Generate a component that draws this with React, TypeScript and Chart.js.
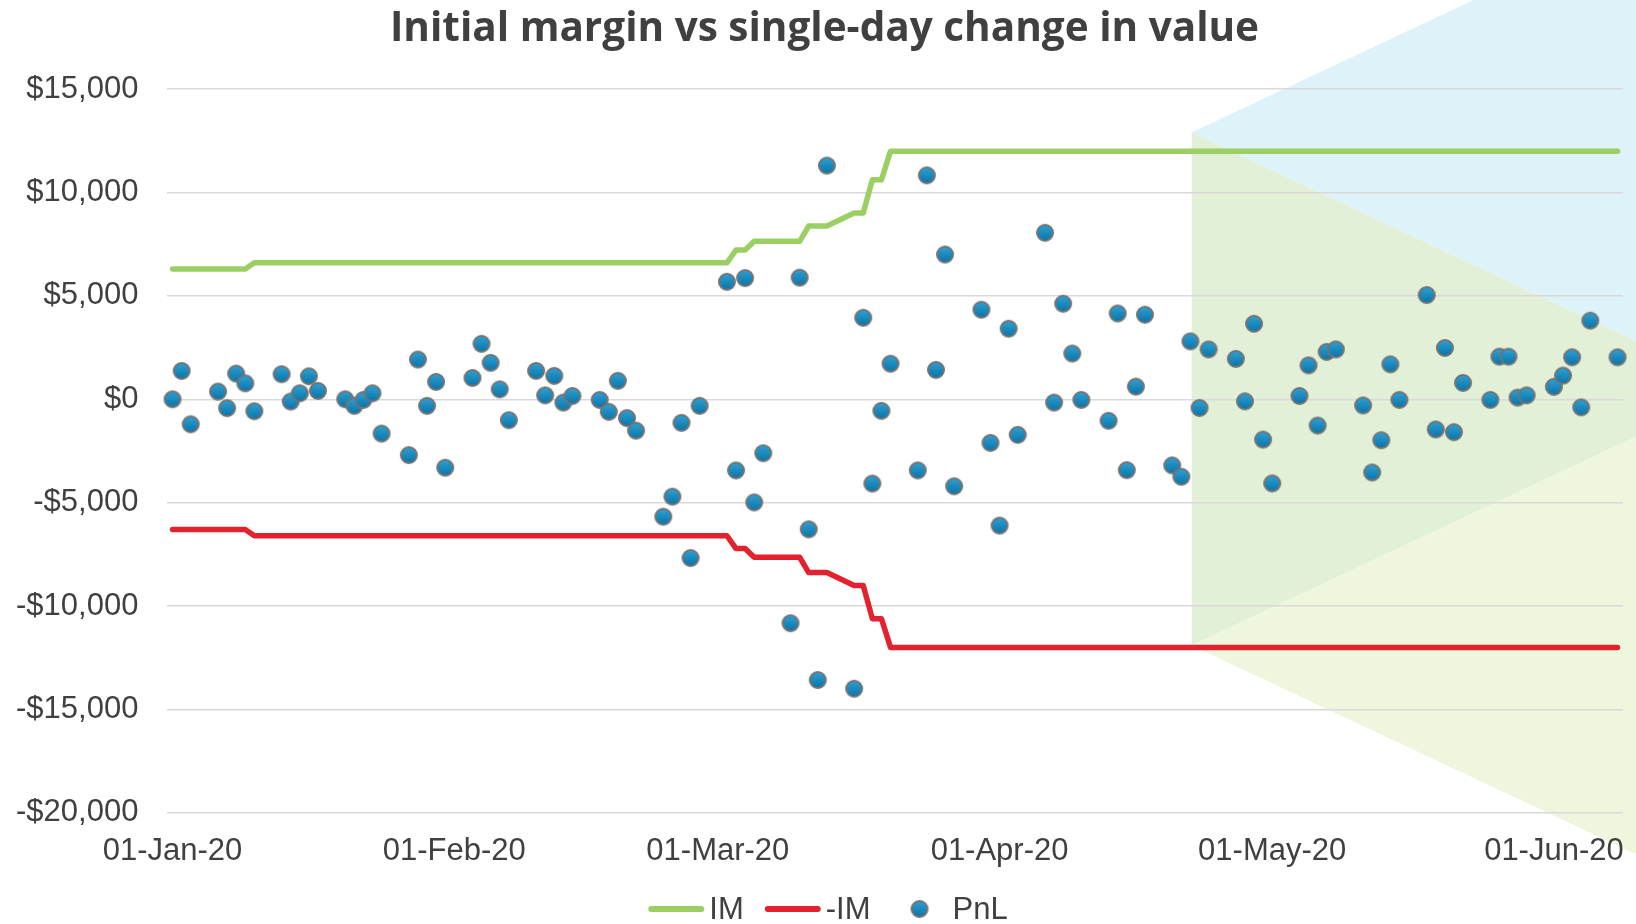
import React, { useEffect, useRef } from 'react';
import { Chart, registerables } from 'chart.js';

Chart.register(...registerables);

const TITLE = 'Initial margin vs single-day change in value';

// Business days shown on the chart
const DATES: string[] = [
  '2020-01-01', '2020-01-02', '2020-01-03', '2020-01-06', '2020-01-07', '2020-01-08', '2020-01-09', '2020-01-10',
  '2020-01-13', '2020-01-14', '2020-01-15', '2020-01-16', '2020-01-17', '2020-01-20', '2020-01-21', '2020-01-22',
  '2020-01-23', '2020-01-24', '2020-01-27', '2020-01-28', '2020-01-29', '2020-01-30', '2020-01-31',
  '2020-02-03', '2020-02-04', '2020-02-05', '2020-02-06', '2020-02-07', '2020-02-10', '2020-02-11', '2020-02-12',
  '2020-02-13', '2020-02-14', '2020-02-17', '2020-02-18', '2020-02-19', '2020-02-20', '2020-02-21', '2020-02-24',
  '2020-02-25', '2020-02-26', '2020-02-27', '2020-02-28',
  '2020-03-02', '2020-03-03', '2020-03-04', '2020-03-05', '2020-03-06', '2020-03-09', '2020-03-10', '2020-03-11',
  '2020-03-12', '2020-03-13', '2020-03-16', '2020-03-17', '2020-03-18', '2020-03-19', '2020-03-20', '2020-03-23',
  '2020-03-24', '2020-03-25', '2020-03-26', '2020-03-27', '2020-03-30', '2020-03-31',
  '2020-04-01', '2020-04-02', '2020-04-03', '2020-04-06', '2020-04-07', '2020-04-08', '2020-04-09', '2020-04-10',
  '2020-04-13', '2020-04-14', '2020-04-15', '2020-04-16', '2020-04-17', '2020-04-20', '2020-04-21', '2020-04-22',
  '2020-04-23', '2020-04-24', '2020-04-27', '2020-04-28', '2020-04-29', '2020-04-30',
  '2020-05-01', '2020-05-04', '2020-05-05', '2020-05-06', '2020-05-07', '2020-05-08', '2020-05-11', '2020-05-12',
  '2020-05-13', '2020-05-14', '2020-05-15', '2020-05-18', '2020-05-19', '2020-05-20', '2020-05-21', '2020-05-22',
  '2020-05-25', '2020-05-26', '2020-05-27', '2020-05-28', '2020-05-29',
  '2020-06-01', '2020-06-02', '2020-06-03', '2020-06-04', '2020-06-05', '2020-06-08',
];

const PNL: number[] = [
  // Jan
  0, 1370, -1210, 370, -430, 1240, 770, -580, 1210, -110, 290, 1110, 405, 0, -320, -30, 290, -1660, -2700, 1920, -320, 840, -3310,
  // Feb
  1030, 2680, 1760, 480, -1010, 1370, 190, 1130, -160, 160, -30, -610, 890, -910, -1520, -5680, -4710, -1140, -7680, -320,
  // Mar
  5680, -3440, 5860, -4990, -2610, -10830, 5880, -6290, -13580, 11300, -14000, 3940, -4080, -560, 1720, -3440, 10830, 1420, 7000, -4210, 4330, -2110,
  // Apr
  -6110, 3410, -1720, 8050, -160, 4620, 2210, -30, -1040, 4150, -3430, 610, 4090, -3200, -3750, 2800, -420, 2410, 1950, -100, 3650, -1950,
  // May
  -4070, 160, 1640, -1270, 2290, 2410, -300, -3540, -1980, 1690, -30, 5040, -1460, 2480, -1590, 790, -30, 2060, 2060, 80, 190,
  // Jun
  600, 1140, 2030, -390, 3800, 2030,
];

const IM: number[] = [
  // Jan
  6300, 6300, 6300, 6300, 6300, 6300, 6300, 6600, 6600, 6600, 6600, 6600, 6600, 6600, 6600, 6600, 6600, 6600, 6600, 6600, 6600, 6600, 6600,
  // Feb
  6600, 6600, 6600, 6600, 6600, 6600, 6600, 6600, 6600, 6600, 6600, 6600, 6600, 6600, 6600, 6600, 6600, 6600, 6600, 6600,
  // Mar
  6600, 7220, 7220, 7640, 7640, 7640, 7640, 8380, 8380, 8380, 9010, 9010, 10610, 10610, 12000, 12000, 12000, 12000, 12000, 12000, 12000, 12000,
  // Apr
  12000, 12000, 12000, 12000, 12000, 12000, 12000, 12000, 12000, 12000, 12000, 12000, 12000, 12000, 12000, 12000, 12000, 12000, 12000, 12000, 12000, 12000,
  // May
  12000, 12000, 12000, 12000, 12000, 12000, 12000, 12000, 12000, 12000, 12000, 12000, 12000, 12000, 12000, 12000, 12000, 12000, 12000, 12000, 12000,
  // Jun
  12000, 12000, 12000, 12000, 12000, 12000,
];

const NEG_IM: number[] = [
  // Jan
  -6300, -6300, -6300, -6300, -6300, -6300, -6300, -6600, -6600, -6600, -6600, -6600, -6600, -6600, -6600, -6600, -6600, -6600, -6600, -6600, -6600, -6600, -6600,
  // Feb
  -6600, -6600, -6600, -6600, -6600, -6600, -6600, -6600, -6600, -6600, -6600, -6600, -6600, -6600, -6600, -6600, -6600, -6600, -6600, -6600,
  // Mar
  -6600, -7220, -7220, -7640, -7640, -7640, -7640, -8380, -8380, -8380, -9010, -9010, -10610, -10610, -12000, -12000, -12000, -12000, -12000, -12000, -12000, -12000,
  // Apr
  -12000, -12000, -12000, -12000, -12000, -12000, -12000, -12000, -12000, -12000, -12000, -12000, -12000, -12000, -12000, -12000, -12000, -12000, -12000, -12000, -12000, -12000,
  // May
  -12000, -12000, -12000, -12000, -12000, -12000, -12000, -12000, -12000, -12000, -12000, -12000, -12000, -12000, -12000, -12000, -12000, -12000, -12000, -12000, -12000,
  // Jun
  -12000, -12000, -12000, -12000, -12000, -12000,
];

const SERIES_LABELS = ['IM', '-IM', 'PnL'];
const SERIES_COLORS = ['#9CCF63', '#E2232F', '#1587BF'];

const X_START = '2020-01-01';
const X_TICK_DATES = ['2020-01-01', '2020-02-01', '2020-03-01', '2020-04-01', '2020-05-01', '2020-06-01'];
const X_TICK_LABELS = ['01-Jan-20', '01-Feb-20', '01-Mar-20', '01-Apr-20', '01-May-20', '01-Jun-20'];
const X_AXIS_MIN_DAY = -0.57;
const X_AXIS_MAX_DAY = 159.6;

const Y_MIN = -20000;
const Y_MAX = 15000;
const Y_STEP = 5000;

// decorative background shapes (fractions of the canvas)
const BG_APEX_X = 0.7284;
const BG_APEX_TOP_Y = 0.1434;
const BG_APEX_BOTTOM_Y = 0.6986;
const BG_SLOPE = 0.47;
const BG_COLORS = ['#DEF2FA', '#E2F0D7', '#EEF7DD'];

const TEXT_COLOR = '#404040';
const AXIS_FONT = { family: "'Liberation Sans', Arial, sans-serif", size: 31 };

function dayIndex(d: string): number {
  return Math.round((Date.parse(d + 'T00:00:00Z') - Date.parse(X_START + 'T00:00:00Z')) / 86400000);
}

function fmtMoney(v: number): string {
  return (v < 0 ? '-$' : '$') + Math.abs(v).toLocaleString('en-US');
}

function makeMarker(): HTMLCanvasElement {
  const c = document.createElement('canvas');
  c.width = 20;
  c.height = 20;
  const g = c.getContext('2d')!;
  const grad = g.createLinearGradient(0, 2, 0, 18);
  grad.addColorStop(0, '#2BA2D6');
  grad.addColorStop(1, '#0C73A6');
  g.beginPath();
  g.arc(10, 10, 8, 0, Math.PI * 2);
  g.fillStyle = grad;
  g.fill();
  g.lineWidth = 2;
  g.strokeStyle = '#747474';
  g.stroke();
  return c;
}

export default function App() {
  const ref = useRef<HTMLCanvasElement>(null);

  useEffect(() => {
    const canvas = ref.current;
    if (!canvas) return;
    const marker = makeMarker();

    const bgPlugin = {
      id: 'bgShapes',
      afterLayout(chart: any) {
        // nudge the title block slightly to the right, as in the reference
        if (chart.titleBlock) {
          chart.titleBlock.left += 5;
          chart.titleBlock.right += 5;
        }
      },
      beforeDraw(chart: any) {
        const ctx = chart.ctx;
        const W = chart.width;
        const H = chart.height;
        const ax = W * BG_APEX_X;
        const ay = H * BG_APEX_TOP_Y;
        const by = H * BG_APEX_BOTTOM_Y;
        const dx = W - ax;
        ctx.save();
        ctx.fillStyle = BG_COLORS[0];
        ctx.beginPath();
        ctx.moveTo(ax, ay);
        ctx.lineTo(ax + ay / BG_SLOPE, 0);
        ctx.lineTo(W, 0);
        ctx.lineTo(W, ay + dx * BG_SLOPE);
        ctx.closePath();
        ctx.fill();
        ctx.fillStyle = BG_COLORS[1];
        ctx.beginPath();
        ctx.moveTo(ax, ay);
        ctx.lineTo(W, ay + dx * BG_SLOPE);
        ctx.lineTo(W, by - dx * BG_SLOPE);
        ctx.lineTo(ax, by);
        ctx.closePath();
        ctx.fill();
        ctx.fillStyle = BG_COLORS[2];
        ctx.beginPath();
        ctx.moveTo(ax, by);
        ctx.lineTo(W, by - dx * BG_SLOPE);
        ctx.lineTo(W, by + dx * BG_SLOPE);
        ctx.closePath();
        ctx.fill();
        ctx.restore();
      },
    };

    const legendPlugin = {
      id: 'bottomLegend',
      afterDraw(chart: any) {
        const ctx = chart.ctx;
        ctx.save();
        ctx.font = `${AXIS_FONT.size}px ${AXIS_FONT.family}`;
        const SYMBOL_W = 56;
        const TEXT_GAP = 5;
        const ITEM_GAP = 21;
        const items = chart.data.datasets.map((ds: any) => ({
          label: ds.label as string,
          color: ds.borderColor as string,
          kind: ds.type as string,
        }));
        const widths = items.map((it: any) => SYMBOL_W + TEXT_GAP + ctx.measureText(it.label).width);
        const total = widths.reduce((a: number, b: number) => a + b, 0) + ITEM_GAP * (items.length - 1);
        let x = chart.width / 2 + 10 - total / 2;
        const y = chart.height - 15;
        items.forEach((it: any, i: number) => {
          if (it.kind === 'scatter') {
            ctx.drawImage(marker, x + SYMBOL_W / 2 - marker.width / 2, y - marker.height / 2);
          } else {
            ctx.beginPath();
            ctx.lineCap = 'round';
            ctx.lineWidth = 6;
            ctx.strokeStyle = it.color;
            ctx.moveTo(x + 3, y);
            ctx.lineTo(x + SYMBOL_W - 3, y);
            ctx.stroke();
          }
          ctx.fillStyle = TEXT_COLOR;
          ctx.textBaseline = 'middle';
          ctx.textAlign = 'left';
          ctx.fillText(it.label, x + SYMBOL_W + TEXT_GAP, y + 1);
          x += widths[i] + ITEM_GAP;
        });
        ctx.restore();
      },
    };

    const xs = DATES.map(dayIndex);

    const chart = new Chart(canvas, {
      type: 'line',
      data: {
        datasets: [
          {
            type: 'line',
            label: SERIES_LABELS[0],
            data: xs.map((x, i) => ({ x, y: IM[i] })),
            borderColor: SERIES_COLORS[0],
            backgroundColor: SERIES_COLORS[0],
            borderWidth: 5.5,
            pointRadius: 0,
            pointHoverRadius: 0,
            fill: false,
            tension: 0,
            borderCapStyle: 'round',
            borderJoinStyle: 'round',
            order: 2,
            clip: false,
          },
          {
            type: 'line',
            label: SERIES_LABELS[1],
            data: xs.map((x, i) => ({ x, y: NEG_IM[i] })),
            borderColor: SERIES_COLORS[1],
            backgroundColor: SERIES_COLORS[1],
            borderWidth: 5.5,
            pointRadius: 0,
            pointHoverRadius: 0,
            fill: false,
            tension: 0,
            borderCapStyle: 'round',
            borderJoinStyle: 'round',
            order: 2,
            clip: false,
          },
          {
            type: 'scatter',
            label: SERIES_LABELS[2],
            data: xs.map((x, i) => ({ x, y: PNL[i] })),
            borderColor: '#747474',
            backgroundColor: SERIES_COLORS[2],
            borderWidth: 2,
            pointStyle: marker,
            pointRadius: 9,
            pointHoverRadius: 9,
            showLine: false,
            order: 1,
            clip: false,
          },
        ] as any,
      },
      options: {
        responsive: false,
        animation: false,
        events: [],
        layout: { padding: { left: 16, right: 13, top: 2, bottom: 54 } },
        plugins: {
          legend: { display: false },
          tooltip: { enabled: false },
          title: {
            display: true,
            text: TITLE,
            color: TEXT_COLOR,
            font: { family: "'Open Sans', sans-serif", size: 40.5, weight: 'bold', lineHeight: 1.2 },
            padding: { top: 3, bottom: 35.5 },
          },
        },
        scales: {
          x: {
            type: 'linear',
            min: X_AXIS_MIN_DAY,
            max: X_AXIS_MAX_DAY,
            grid: { display: false, drawTicks: false },
            border: { display: false },
            afterBuildTicks: (axis: any) => {
              axis.ticks = X_TICK_DATES.map((d) => ({ value: dayIndex(d) }));
            },
            afterFit: (axis: any) => {
              axis.height -= axis.options.ticks.padding;
              axis.paddingLeft = 0;
              axis.paddingRight = 0;
            },
            ticks: {
              autoSkip: false,
              maxRotation: 0,
              minRotation: 0,
              padding: 20,
              color: TEXT_COLOR,
              font: AXIS_FONT,
              callback: (_v: any, i: number) => X_TICK_LABELS[i],
            },
          },
          y: {
            type: 'linear',
            min: Y_MIN,
            max: Y_MAX,
            grid: { color: '#D9D9D9', lineWidth: 1.5, drawTicks: false },
            border: { display: false },
            afterFit: (axis: any) => {
              axis.width -= axis.options.ticks.padding;
            },
            ticks: {
              stepSize: Y_STEP,
              padding: 29,
              color: TEXT_COLOR,
              font: AXIS_FONT,
              callback: (v: any) => fmtMoney(Number(v)),
            },
          },
        },
      } as any,
      plugins: [bgPlugin, legendPlugin],
    });

    return () => chart.destroy();
  }, []);

  return (
    <div style={{ position: 'fixed', left: 0, top: 0, width: 1636, height: 924, background: '#ffffff' }}>
      <canvas ref={ref} width={1636} height={924} style={{ display: 'block' }} />
    </div>
  );
}
